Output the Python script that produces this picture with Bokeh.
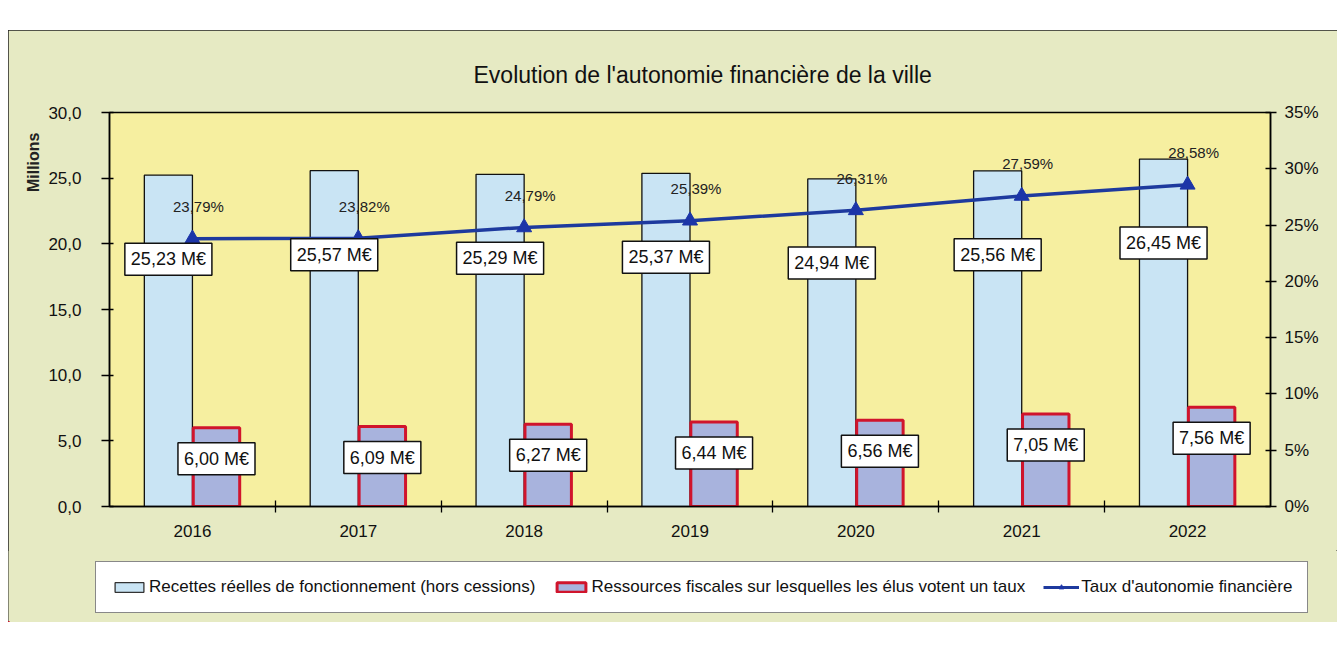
import numpy as np
from bokeh.plotting import figure
from bokeh.models import (ColumnDataSource, Range1d, LinearAxis, FixedTicker, Title,
                          Legend, LegendItem, Spacer)
from bokeh.layouts import column, row
from bokeh.transform import dodge
from bokeh.core.properties import value
from bokeh.embed import file_html
from bokeh.resources import INLINE

# ---- data ----
years = ["2016", "2017", "2018", "2019", "2020", "2021", "2022"]
recettes = [25.23, 25.57, 25.29, 25.37, 24.94, 25.56, 26.45]      # M€
ressources = [6.00, 6.09, 6.27, 6.44, 6.56, 7.05, 7.56]           # M€
taux = [23.79, 23.82, 24.79, 25.39, 26.31, 27.59, 28.58]          # %
left_ticks = [0, 5, 10, 15, 20, 25, 30]
right_ticks = [0, 5, 10, 15, 20, 25, 30, 35]

title_text = "Evolution de l'autonomie financière de la ville"
legend_labels = ["Recettes réelles de fonctionnement (hors cessions)",
                 "Ressources fiscales sur lesquelles les élus votent un taux",
                 "Taux d'autonomie financière"]

FONT = "Liberation Sans"
F = value(FONT)
OUTER_BG = "#E6EAC3"
PLOT_BG = "#F6EFA0"
BLUE_FILL = "#C9E4F4"
RED_FILL = "#A8B3DD"
RED_LINE = "#D0142C"
LINE_COL = "#1E3A9E"


def fr(v, n=2):
    return f"{v:.{n}f}".replace(".", ",")


idx = np.arange(len(years))
src = ColumnDataSource(dict(
    x=idx,
    rec=recettes,
    res=ressources,
    taux=taux,
    rec_lbl=[fr(v) + " M€" for v in recettes],
    res_lbl=[fr(v) + " M€" for v in ressources],
    taux_lbl=[fr(v) + "%" for v in taux],
))

p = figure(width=1329, height=520,
           x_range=Range1d(-0.5, len(years) - 0.5), y_range=Range1d(0, 30),
           output_backend="svg", toolbar_location=None,
           min_border_left=101, min_border_right=67,
           min_border_top=82, min_border_bottom=44)
p.frame_align = False
p.extra_y_ranges = {"pct": Range1d(0, 35)}

p.background_fill_color = PLOT_BG
p.border_fill_color = OUTER_BG
p.outline_line_color = "black"
p.outline_line_width = 1.5
p.grid.visible = False

# title
p.title.text = title_text
p.title.align = "left"
p.title.offset = 364
p.title.standoff = 49
p.title.text_font = FONT
p.title.text_font_size = "23px"
p.title.text_font_style = "normal"
p.title.text_color = "#111111"

# bars
r_rec = p.vbar(x=dodge("x", -0.145), top="rec", width=0.29, source=src,
               fill_color=BLUE_FILL, line_color="#111111", line_width=1.3)
r_res = p.vbar(x=dodge("x", 0.145), top="res", width=0.28, source=src,
               fill_color=RED_FILL, line_color=RED_LINE, line_width=3)

# line
r_line = p.line(x="x", y="taux", source=src, y_range_name="pct",
                line_color=LINE_COL, line_width=3.5)
r_mk = p.scatter(x="x", y="taux", source=src, y_range_name="pct",
                 marker="triangle", size=15, fill_color="#1C35A8",
                 line_color="#1C35A8")

# labels
p.text(x=dodge("x", -0.145), y="rec", text="rec_lbl", source=src,
       text_align="center", text_baseline="middle", y_offset=84,
       text_font=F, text_font_size="18px", text_color="#111111",
       background_fill_color="white", border_line_color="#111111",
       border_line_width=1.5, padding=6)
p.text(x=dodge("x", 0.145), y="res", text="res_lbl", source=src,
       text_align="center", text_baseline="middle", y_offset=31,
       text_font=F, text_font_size="18px", text_color="#111111",
       background_fill_color="white", border_line_color="#111111",
       border_line_width=1.5, padding=6)
p.text(x="x", y="taux", text="taux_lbl", source=src, y_range_name="pct",
       text_align="center", text_baseline="middle", y_offset=-32, x_offset=6,
       text_font=F, text_font_size="15px", text_color="#222222")

# axes
yax = p.yaxis[0]
yax.ticker = FixedTicker(ticks=left_ticks)
yax.major_label_overrides = {t: fr(t, 1) for t in left_ticks}
yax.major_tick_out = 8
yax.major_tick_in = 4
yax.major_label_standoff = 20

xax = p.xaxis[0]
xax.ticker = FixedTicker(ticks=list(idx), minor_ticks=[i + 0.5 for i in idx[:-1]])
xax.major_label_overrides = {int(i): y for i, y in zip(idx, years)}
xax.minor_tick_in = 6
xax.minor_tick_out = 6
xax.major_label_standoff = 12

rax = LinearAxis(y_range_name="pct", ticker=FixedTicker(ticks=right_ticks))
rax.major_label_overrides = {t: f"{t}%" for t in right_ticks}
rax.major_tick_out = 6
rax.major_tick_in = 5
rax.major_label_standoff = 8
p.add_layout(rax, "right")

for ax in (xax, yax, rax):
    ax.axis_line_color = "black"
    ax.axis_line_width = 1.5
    ax.major_tick_line_color = "black"
    ax.major_tick_line_width = 1.3
    ax.minor_tick_line_color = "black"
    ax.minor_tick_line_width = 1.3
    ax.major_label_text_font = FONT
    ax.major_label_text_font_size = "17px"
    ax.major_label_text_color = "#111111"
xax.major_tick_line_color = None
yax.minor_tick_line_color = None
rax.minor_tick_line_color = None

# "Millions" unit label at the top of the left axis
p.add_layout(Title(text="Millions", align="right", offset=20, text_font=FONT,
                   text_font_size="16px", text_font_style="bold",
                   text_color="#222222", standoff=7), "left")

# ---- legend strip (same chart box, below the axis) ----
# its renderers share the chart's data but its view range lies away from them,
# so it only shows the legend
leg = figure(width=1329, height=72, x_range=Range1d(100, 101), y_range=Range1d(100, 101),
             output_backend="svg", toolbar_location=None, min_border=0,
             min_border_left=0, min_border_right=0, min_border_top=0, min_border_bottom=0,
             x_axis_type=None, y_axis_type=None)
leg.frame_align = False
leg.background_fill_color = OUTER_BG
leg.border_fill_color = OUTER_BG
leg.outline_line_color = None
k_rec = leg.vbar(x="x", top="rec", width=0.29, source=src,
                 fill_color=BLUE_FILL, line_color="#333333", line_width=1.3)
k_res = leg.vbar(x="x", top="res", width=0.28, source=src,
                 fill_color=RED_FILL, line_color=RED_LINE, line_width=3)
k_line = leg.line(x="x", y="taux", source=src, line_color=LINE_COL, line_width=3)
k_mk = leg.scatter(x="x", y="taux", source=src, marker="triangle", size=9,
                   fill_color="#1C35A8", line_color="#1C35A8")

legend = Legend(items=[LegendItem(label=legend_labels[0], renderers=[k_rec]),
                       LegendItem(label=legend_labels[1], renderers=[k_res]),
                       LegendItem(label=legend_labels[2], renderers=[k_line, k_mk])],
                orientation="horizontal", location=(87, 9),
                label_text_font=FONT, label_text_font_size="17px",
                label_text_color="#111111",
                glyph_width=36, glyph_height=12, label_standoff=2, spacing=18,
                padding=15, margin=0,
                border_line_color="#111111", border_line_width=1.5,
                background_fill_color="white", background_fill_alpha=1)
leg.add_layout(legend, "center")

chart = column(p, leg, spacing=0,
               styles={"outline": "1.5px solid #222", "outline-offset": "-1px",
                       "background-color": OUTER_BG})
layout = row(Spacer(width=8), column(Spacer(height=30), chart))
open("out.html", "w").write(file_html(layout, INLINE))
